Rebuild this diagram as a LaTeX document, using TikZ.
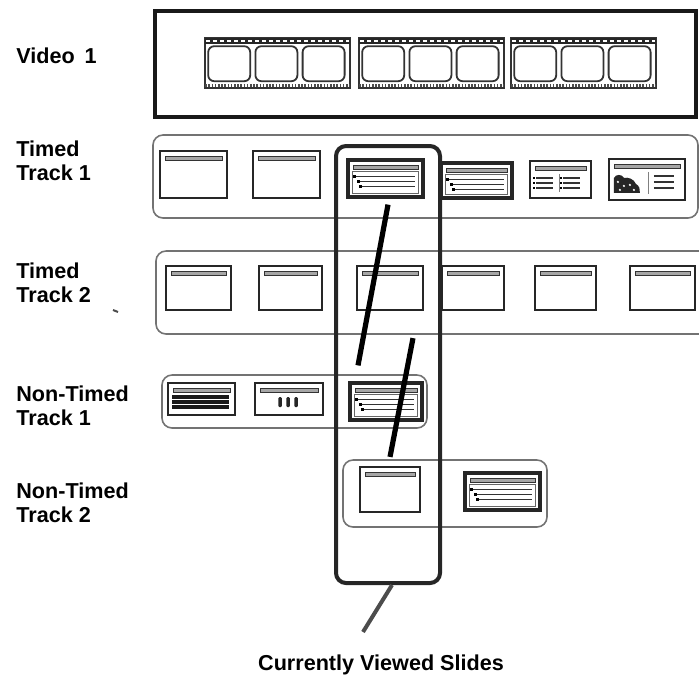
\documentclass[tikz,border=0pt]{standalone}
\usepackage{fontspec}
\setmainfont{Liberation Sans}
\usetikzlibrary{fit}

\begin{document}
\begin{tikzpicture}[
    x=0.5pt, y=-0.5pt,
    tracklabel/.style={
        font=\bfseries\fontsize{10.8}{12}\selectfont,
        align=left,
        anchor=west,
        inner sep=0pt
    },
    videobox/.style={draw=black!90, line width=2pt, inner sep=0pt},
    strip/.style={draw=black!80, line width=0.8pt, inner sep=0pt},
    frame/.style={draw=black!80, line width=0.9pt, rounded corners=3pt},
    track/.style={draw=black!55, line width=0.8pt, rounded corners=5pt, inner sep=0pt},
    slide/.style={
        draw=black!85,
        line width=0.9pt,
        fill=white,
        inner sep=0pt,
        path picture={\draw[black!80, fill=black!35, line width=0.5pt]
            ([shift={(2.5pt,-2.5pt)}]path picture bounding box.north west) rectangle
            ([shift={(-2.5pt,-4.8pt)}]path picture bounding box.north east);}
    },
    textline/.style={black!80, line width=0.9pt},
    current/.style={draw=black!85, line width=2pt, rounded corners=5pt, inner sep=0pt},
    link/.style={black, line width=2.6pt},
    pointer/.style={black!70, line width=2pt}
]
\useasboundingbox (0,0) rectangle (699,677);

% Video track
\node[videobox, fit={(155,11) (696,117)}] (video) {};
\foreach \s [count=\k] in {205,359,511}{
    \node[strip, fit={(\s,38) (\s+145,88)}] (film\k) {};
    \draw[black!85, line width=3pt] ([shift={(0.5pt,-1.8pt)}]film\k.north west) -- ([shift={(-0.5pt,-1.8pt)}]film\k.north east);
    \draw[white, line width=1.2pt, dash pattern=on 2pt off 1.5pt] ([shift={(1pt,-1.8pt)}]film\k.north west) -- ([shift={(-1pt,-1.8pt)}]film\k.north east);
    \draw[black!70, line width=1.6pt, dash pattern=on 0.8pt off 0.8pt] ([shift={(0.5pt,1.8pt)}]film\k.south west) -- ([shift={(-0.5pt,1.8pt)}]film\k.south east);
    \foreach \j in {0,1,2}
        \draw[frame] ([shift={(2pt+\j*23.6pt,-4.5pt)}]film\k.north west) rectangle ++(21pt,-17.5pt);
}

% Timed track 1
\node[track, fit={(153,135) (698,218)}] (trk1) {};
\foreach \xa/\ya/\xb/\yb/\lw [count=\k] in {160/151/227/198/0.9, 253/151/320/198/0.9, 348/160/423/197/1.6, 441/163/512/198/1.6, 530/161/591/198/1.1, 609/159/685/200/1.1}
    \node[slide, line width=\lw pt, fit={(\xa,\ya) (\xb,\yb)}] (t1s\k) {};

% Timed track 2
\node[track, fit={(156,251) (712,334)}] (trk2) {};
\foreach \xa/\xb [count=\k] in {166/231, 259/322, 357/423, 442/504, 535/596, 630/695}
    \node[slide, line width=1.1pt, fit={(\xa,266) (\xb,310)}] (t2s\k) {};

% Non-timed track 1
\node[track, fit={(162,375) (427,428)}] (ntrk1) {};
\foreach \xa/\ya/\xb/\yb/\lw [count=\k] in {168/383/235/415/1.4, 255/383/323/415/0.9, 350/383/422/420/1.6}
    \node[slide, line width=\lw pt, fit={(\xa,\ya) (\xb,\yb)}] (n1s\k) {};

% Non-timed track 2
\node[track, fit={(343,460) (547,527)}] (ntrk2) {};
\node[slide, line width=1.1pt, fit={(360,467) (420,512)}] (n2s1) {};
\node[slide, line width=1.6pt, fit={(465,473) (540,510)}] (n2s2) {};

% Slide contents
\foreach \n in {t1s3,t1s4,n1s3,n2s2}{
    \draw[black!60, line width=0.5pt] ([shift={(3pt,-6.5pt)}]\n.north west) rectangle ([shift={(-3pt,2.5pt)}]\n.south east);
    \foreach \y/\i in {9pt/5pt, 11.5pt/7pt, 14pt/8pt}{
        \fill ([shift={(\i-1.6pt,-\y+0.7pt)}]\n.north west) rectangle ++(1.4pt,-1.4pt);
        \draw[textline] ([shift={(\i,-\y)}]\n.north west) -- ([shift={(-5pt,-\y)}]\n.north east);
    }
}
\begin{scope}[shift={(t1s5.north west)}, x=1pt, y=-1pt]
    \draw[black!50, line width=0.4pt] (15,7) -- (15,16);
    \foreach \c in {3.5,17}
        \foreach \y in {9,11.5,14}{
            \fill (\c-1.5,\y-0.6) rectangle (\c-0.3,\y+0.6);
            \draw[textline, line width=0.7pt] (\c,\y) -- (\c+8.5,\y);
        }
\end{scope}
\begin{scope}[shift={(t1s6.north west)}, x=1pt, y=-1pt]
    \fill[black!85] (3,17.5) -- (3,10) .. controls (4,8) and (7,8) .. (8,10)
        .. controls (10,9.5) and (13,10.5) .. (14,13) .. controls (16,14) and (16,16) .. (16,17.5) -- cycle;
    \foreach \p in {(5,12),(8,14),(11,13.5),(6,16),(13,16)}
        \fill[white] \p circle (0.6pt);
    \draw[black!50, line width=0.4pt] (20,7) -- (20,18);
    \foreach \y in {9,12,15}
        \draw[textline, line width=0.7pt] (23,\y) -- (33,\y);
\end{scope}
\begin{scope}[shift={(n1s1.north west)}, x=1pt, y=-1pt]
    \fill[black!90] (2.5,6.5) rectangle (31,13.5);
    \foreach \y in {8.8,11.2}
        \draw[white, line width=0.4pt] (2.5,\y) -- (31,\y);
\end{scope}
\begin{scope}[shift={(n1s2.north west)}, x=1pt, y=-1pt]
    \foreach \x in {13,17,21}
        \fill[black!85, rounded corners=0.6pt] (\x-0.9,7.5) rectangle (\x+0.9,12.5);
\end{scope}

% Currently viewed column
\node[current, fit={(336,146) (440,583)}] (cur) {};

% Links between viewed slides
\draw[link] ([xshift=1.25pt,yshift=-3pt]t1s3.south) -- ([xshift=-14pt,yshift=8pt]n1s3.north);
\draw[link] ([xshift=11.5pt,yshift=-13.5pt]t2s3.south) -- ([yshift=4.5pt]n2s1.north);

% Track labels
\node[tracklabel] (lvid) at (16,56) {Video\hspace{0.45em}1};
\node[tracklabel] (lt1) at (16,161) {Timed\\Track 1};
\node[tracklabel] (lt2) at (16,283) {Timed\\Track 2};
\node[tracklabel] (ln1) at (16,406) {Non-Timed\\Track 1};
\node[tracklabel] (ln2) at (16,503) {Non-Timed\\Track 2};
\draw[black!70, line width=1pt] (113,310) -- (118,312);

% Caption
\node[tracklabel, anchor=base] (caption) at (381,670) {Currently Viewed Slides};
\draw[pointer] ([xshift=2pt]cur.south) -- ([xshift=-9pt,yshift=11pt]caption.north);

\end{tikzpicture}
\end{document}
